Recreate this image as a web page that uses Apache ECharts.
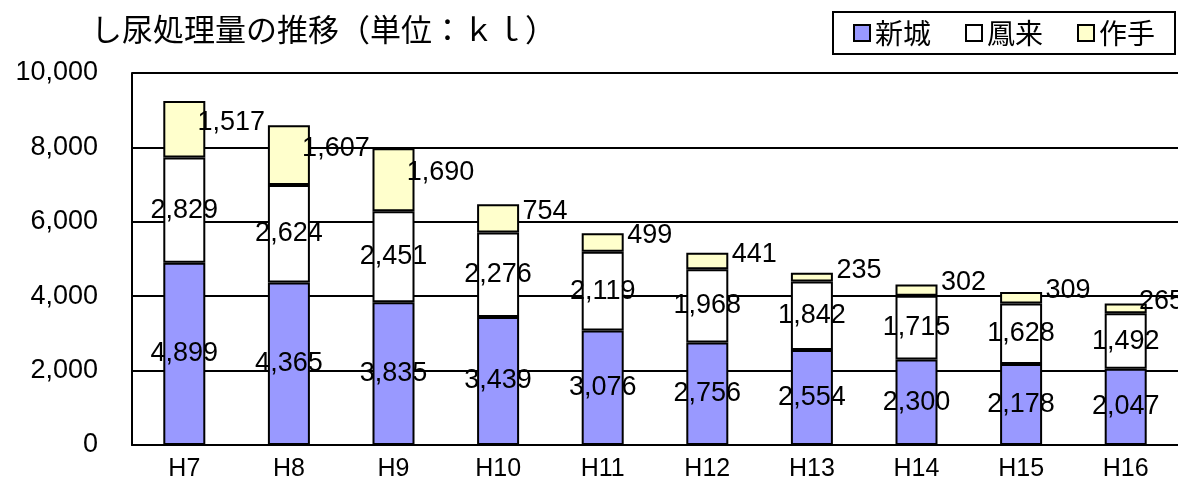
<!DOCTYPE html>
<html>
<head>
    <meta charset="utf-8">
    <script type="text/javascript" src="https://cdn.jsdelivr.net/npm/echarts@6/dist/echarts.min.js"></script>
    <title>し尿処理量の推移</title>
    <style>
        html, body { margin: 0; padding: 0; background: #fff; }
    </style>
</head>
<body>
    <div id="container" style="width:1178px;height:495px;"></div>
    <script type="text/javascript">
    // 年度
    var categories = ['H7', 'H8', 'H9', 'H10', 'H11', 'H12', 'H13', 'H14', 'H15', 'H16'];
    // 地区別 し尿処理量 (kl)
    var shinshiro = [4899, 4365, 3835, 3439, 3076, 2756, 2554, 2300, 2178, 2047];
    var horai = [2829, 2624, 2451, 2276, 2119, 1968, 1842, 1715, 1628, 1492];
    var tsukude = [1517, 1607, 1690, 754, 499, 441, 235, 302, 309, 265];
    var yTicks = [0, 2000, 4000, 6000, 8000, 10000];

    var numFont = 'Liberation Sans, Arial, sans-serif';
    var jpFont = 'Noto Sans CJK JP, sans-serif';

    function comma(v) {
        return String(v).replace(/\B(?=(\d{3})+(?!\d))/g, ',');
    }

    var myChart = echarts.init(document.getElementById('container'));

    var baseLabel = {
        show: true,
        position: 'inside',
        color: '#000',
        fontSize: 27,
        fontFamily: numFont,
        formatter: function (p) { return comma(p.value); }
    };

    var option = {
        animation: false,
        backgroundColor: '#fff',
        title: {
            text: 'し尿処理量の推移（単位：ｋｌ）',
            left: 86,
            top: 9,
            textStyle: { fontFamily: jpFont, fontSize: 31, fontWeight: 'normal', color: '#000' }
        },
        legend: {
            data: ['新城', '鳳来', '作手'],
            left: 833,
            top: 12,
            padding: [7, 20, 7, 20],
            borderColor: '#000',
            borderWidth: 2,
            itemGap: 34,
            itemWidth: 16,
            itemHeight: 16,
            icon: 'rect',
            itemStyle: { borderColor: '#000', borderWidth: 2 },
            textStyle: { fontFamily: jpFont, fontSize: 28, color: '#000' }
        },
        grid: {
            left: 132,
            top: 73,
            width: 1053,
            height: 372
        },
        xAxis: {
            type: 'category',
            data: categories,
            axisLine: { lineStyle: { color: '#000', width: 2 } },
            axisTick: { inside: true, length: 8, lineStyle: { color: '#000', width: 2 } },
            axisLabel: { color: '#000', fontSize: 25, fontFamily: numFont, margin: 12 }
        },
        yAxis: {
            type: 'value',
            min: yTicks[0],
            max: yTicks[yTicks.length - 1],
            interval: 2000,
            axisLine: { show: true, lineStyle: { color: '#000', width: 2 } },
            axisTick: { show: false },
            splitLine: { lineStyle: { color: '#000', width: 2 } },
            axisLabel: {
                color: '#000', fontSize: 27, fontFamily: numFont, margin: 34,
                formatter: function (v) { return comma(v); }
            }
        },
        series: [{
            name: '新城',
            type: 'bar',
            stack: 'total',
            barWidth: 42,
            data: shinshiro,
            itemStyle: { color: '#9999FF', borderColor: '#000', borderWidth: 2 },
            label: baseLabel
        }, {
            name: '鳳来',
            type: 'bar',
            stack: 'total',
            barWidth: 42,
            data: horai,
            itemStyle: { color: '#FFFFFF', borderColor: '#000', borderWidth: 2 },
            label: baseLabel
        }, {
            name: '作手',
            type: 'bar',
            stack: 'total',
            barWidth: 42,
            data: tsukude,
            itemStyle: { color: '#FFFFCC', borderColor: '#000', borderWidth: 2 },
            label: baseLabel,
            // ラベルは右上にずらし、右端では画面内に寄せる
            labelLayout: function (params) {
                var r = params.labelRect;
                var x = Math.min(r.x + 47, 1184 - r.width);
                return { x: x, y: r.y - 7, align: 'left', verticalAlign: 'top' };
            }
        }]
    };

    myChart.setOption(option);
    </script>
</body>
</html>
